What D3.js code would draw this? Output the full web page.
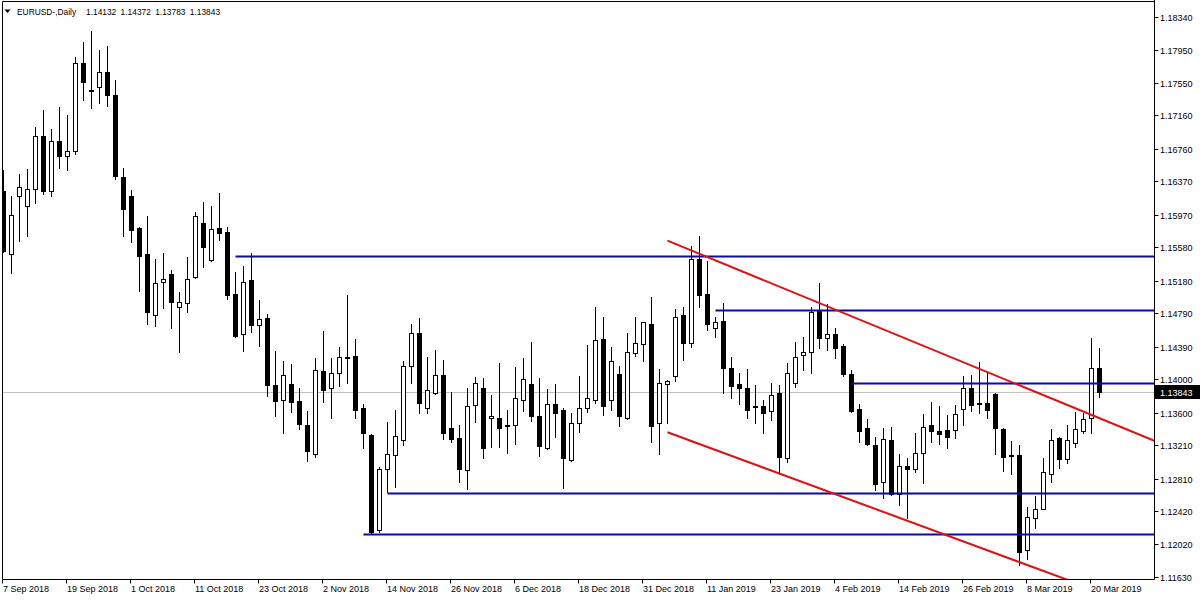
<!DOCTYPE html>
<html><head><meta charset="utf-8">
<script src="https://cdn.jsdelivr.net/npm/d3@7"></script>
<style>
body{margin:0;background:#fff;}
svg{display:block;font-family:"Liberation Sans",Arial,sans-serif;}
</style>
</head><body>
<svg id="chart" width="1200" height="600"></svg>
<script>
// ---- data ----
const symbolLabel = "EURUSD-,Daily";
const startDate = "2018-09-07";
const holidays = ["2018-12-25", "2019-01-01"];
const opens = [1.1625,1.1550,1.1619,1.1608,1.1628,1.1691,1.1626,1.1685,1.1667,1.1674,
1.1779,1.1747,1.1750,1.1768,1.1740,1.1642,1.1620,1.1581,1.1550,1.1477,
1.1517,1.1526,1.1486,1.1491,1.1522,1.1587,1.1543,1.1581,1.1576,1.1502,
1.1454,1.1519,1.1465,1.1473,1.1393,1.1375,1.1394,1.1374,1.1345,1.1310,
1.1410,1.1389,1.1408,1.1427,1.1428,1.1365,1.1333,1.1219,1.1292,1.1309,
1.1327,1.1416,1.1455,1.1366,1.1384,1.1405,1.1342,1.1329,1.1291,1.1369,
1.1389,1.1353,1.1354,1.1345,1.1345,1.1375,1.1394,1.1356,1.1318,1.1370,
1.1363,1.1303,1.1348,1.1366,1.1375,1.1448,1.1375,1.1406,1.1354,1.1431,
1.1442,1.1466,1.1347,1.1394,1.1404,1.1477,1.1443,1.1544,1.1502,1.1461,
1.1470,1.1413,1.1394,1.1389,1.1368,1.1368,1.1362,1.1383,1.1305,1.1395,
1.1429,1.1433,1.1483,1.1449,1.1454,1.1440,1.1406,1.1364,1.1341,1.1321,
1.1277,1.1327,1.1262,1.1296,1.1293,1.1311,1.1345,1.1338,1.1339,1.1339,
1.1364,1.1390,1.1371,1.1371,1.1382,1.1340,1.1309,1.1309,1.1195,1.1234,
1.1245,1.1287,1.1330,1.1304,1.1323,1.1338,1.1353,1.14132];
const highs = [1.1651,1.1619,1.1646,1.1652,1.1702,1.1723,1.1700,1.1726,1.1717,1.1786,
1.1804,1.1817,1.1795,1.1799,1.1758,1.1653,1.1627,1.1582,1.1596,1.1544,
1.1551,1.1531,1.1505,1.1546,1.1600,1.1612,1.1608,1.1623,1.1582,1.1528,
1.1536,1.1551,1.1495,1.1478,1.1434,1.1422,1.1418,1.1390,1.1362,1.1425,
1.1458,1.1425,1.1439,1.1501,1.1448,1.1370,1.1334,1.1295,1.1349,1.1363,
1.1422,1.1466,1.1473,1.1427,1.1435,1.1423,1.1385,1.1345,1.1389,1.1403,
1.1401,1.1381,1.1419,1.1363,1.1415,1.1425,1.1445,1.1401,1.1388,1.1394,
1.1366,1.1359,1.1404,1.1441,1.1487,1.1475,1.1439,1.1416,1.1455,1.1474,
1.1469,1.1498,1.1412,1.1399,1.1484,1.1486,1.1560,1.1572,1.1542,1.1475,
1.1491,1.1427,1.1407,1.1412,1.1393,1.1375,1.1395,1.1393,1.1419,1.1444,
1.1451,1.1486,1.1515,1.1490,1.1461,1.1442,1.1411,1.1370,1.1352,1.1331,
1.1342,1.1343,1.1310,1.1306,1.1336,1.1358,1.1373,1.1368,1.1357,1.1369,
1.1404,1.1405,1.1421,1.1407,1.1383,1.1341,1.1326,1.1321,1.1247,1.1260,
1.1306,1.1340,1.1331,1.1345,1.1361,1.1360,1.1449,1.14372];
const lows = [1.1552,1.1527,1.1566,1.1571,1.1611,1.1622,1.1619,1.1653,1.1651,1.1670,
1.1734,1.1725,1.1731,1.1727,1.1640,1.1571,1.1565,1.1506,1.1466,1.1464,
1.1485,1.1461,1.1433,1.1481,1.1521,1.1535,1.1542,1.1567,1.1496,1.1450,
1.1434,1.1457,1.1440,1.1380,1.1356,1.1336,1.1361,1.1340,1.1302,1.1307,
1.1373,1.1354,1.1392,1.1395,1.1353,1.1317,1.1216,1.1217,1.1265,1.1271,
1.1321,1.1395,1.1359,1.1360,1.1382,1.1328,1.1325,1.1277,1.1268,1.1349,
1.1306,1.1319,1.1319,1.1311,1.1322,1.1362,1.1350,1.1308,1.1316,1.1331,
1.1270,1.1302,1.1337,1.1361,1.1372,1.1357,1.1363,1.1344,1.1352,1.1428,
1.1422,1.1325,1.1310,1.1347,1.1398,1.1423,1.1438,1.1486,1.1459,1.1451,
1.1383,1.1378,1.1370,1.1354,1.1347,1.1336,1.1351,1.1289,1.1301,1.1391,
1.1411,1.1407,1.1437,1.1435,1.1425,1.1404,1.1361,1.1325,1.1321,1.1267,
1.1258,1.1261,1.1249,1.1234,1.1289,1.1276,1.1325,1.1322,1.1317,1.1330,
1.1345,1.1362,1.1360,1.1354,1.1310,1.1290,1.1287,1.1177,1.1185,1.1222,
1.1244,1.1277,1.1294,1.1300,1.1319,1.1335,1.1336,1.13783];
const closes = [1.1554,1.1597,1.1630,1.1628,1.1692,1.1625,1.1685,1.1668,1.1674,1.1779,
1.1756,1.1746,1.1768,1.1741,1.1643,1.1604,1.1579,1.1548,1.1480,1.1515,
1.1520,1.1492,1.1493,1.1520,1.1596,1.1559,1.1580,1.1575,1.1501,1.1452,
1.1516,1.1465,1.1472,1.1393,1.1374,1.1405,1.1373,1.1346,1.1314,1.1411,
1.1387,1.1408,1.1427,1.1426,1.1363,1.1335,1.1217,1.1292,1.1310,1.1332,
1.1416,1.1455,1.1372,1.1387,1.1405,1.1336,1.1328,1.1292,1.1368,1.1395,
1.1318,1.1356,1.1342,1.1344,1.1378,1.1400,1.1356,1.1320,1.1370,1.1359,
1.1306,1.1348,1.1365,1.1377,1.1447,1.1368,1.1422,1.1356,1.1432,1.1443,
1.1468,1.1344,1.1395,1.1398,1.1475,1.1443,1.1544,1.1501,1.1466,1.1469,
1.1413,1.1392,1.1389,1.1363,1.1367,1.1360,1.1381,1.1307,1.1407,1.1427,
1.1433,1.1480,1.1449,1.1454,1.1437,1.1406,1.1362,1.1338,1.1322,1.1275,
1.1328,1.1262,1.1296,1.1292,1.1311,1.1343,1.1338,1.1334,1.1331,1.1358,
1.1390,1.1369,1.1370,1.1363,1.1341,1.1307,1.1308,1.1193,1.1235,1.1245,
1.1289,1.1327,1.1304,1.1327,1.1340,1.1352,1.1414,1.13843];
const xTickLabels = ["7 Sep 2018","19 Sep 2018","1 Oct 2018","11 Oct 2018","23 Oct 2018",
"2 Nov 2018","14 Nov 2018","26 Nov 2018","6 Dec 2018","18 Dec 2018","31 Dec 2018",
"11 Jan 2019","23 Jan 2019","4 Feb 2019","14 Feb 2019","26 Feb 2019","8 Mar 2019","20 Mar 2019"];
const priceTicks = [1.18340,1.17950,1.17550,1.17160,1.16760,1.16370,1.15970,1.15580,1.15180,
1.14790,1.14390,1.14000,1.13600,1.13210,1.12810,1.12420,1.12020,1.11630];
const hLinePrices = [1.15476, 1.14833, 1.13958, 1.12637, 1.12149];
const hLineStartBars = [29, 89, 106, 48, 45];
const trendStartBars = [83, 83];
const trendEndBars = [133, 133];
const trendStartPrices = [1.15660, 1.13364];
const trendEndPrices = [1.13690, 1.11596];

// ---- layout ----
const W = 1200, H = 600;
const plotL = 2.5, plotT = 1.5, plotR = 1154.5, plotB = 579.5;
const n = opens.length;
const svg = d3.select("#chart");
svg.append("rect").attr("width", W).attr("height", H).attr("fill", "#fff");

const fmtKey = d3.timeFormat("%Y-%m-%d");
const fmtLbl = d3.timeFormat("%-d %b %Y");
const dates = [];
{
  const d = d3.timeParse("%Y-%m-%d")(startDate);
  while (dates.length < n) {
    const wd = d.getDay();
    if (wd !== 0 && wd !== 6 && !holidays.includes(fmtKey(d))) dates.push(new Date(d));
    d.setDate(d.getDate() + 1);
  }
}
const keys = dates.map(fmtKey);
const x = d3.scalePoint().domain(keys).range([3.5, 3.5 + 8 * (n - 1)]);
const y = d3.scaleLinear().domain([1.18340, 1.11630]).range([17, 577]);
const xi = i => x(keys[i]);
const xEdge = x.range()[0] + (plotR - x.range()[0]);

svg.append("clipPath").attr("id", "clip").append("rect")
  .attr("x", plotL + 0.5).attr("y", plotT + 0.5).attr("width", plotR - plotL - 1).attr("height", plotB - plotT - 1);
const plot = svg.append("g").attr("clip-path", "url(#clip)");

// current price line
const lastPrice = closes[n - 1];
const yLast = Math.round(y(lastPrice)) + 0.5;
plot.append("line").attr("x1", plotL).attr("x2", plotR).attr("y1", yLast).attr("y2", yLast)
  .attr("stroke", "#c0c0c0").attr("stroke-width", 1);

// candles
const cg = plot.append("g");
for (let i = 0; i < n; i++) {
  const cx = xi(i);
  const o = opens[i], c = closes[i];
  cg.append("line").attr("x1", cx).attr("x2", cx)
    .attr("y1", Math.round(y(highs[i]))).attr("y2", Math.round(y(lows[i])) + 1)
    .attr("stroke", "#000").attr("stroke-width", 1);
  const top = Math.round(y(Math.max(o, c)));
  const bot = Math.round(y(Math.min(o, c)));
  const bull = c > o;
  cg.append("rect").attr("x", cx - 2).attr("y", top + 0.5)
    .attr("width", 4).attr("height", Math.max(bot - top, 1))
    .attr("fill", bull ? "#fff" : "#000").attr("stroke", "#000").attr("stroke-width", 1);
}

// horizontal levels
hLinePrices.forEach((p, k) => {
  const yy = Math.round(y(p)) + 0.5;
  plot.append("line").attr("x1", xi(hLineStartBars[k])).attr("x2", plotR)
    .attr("y1", yy).attr("y2", yy).attr("stroke", "#0a0aa5").attr("stroke-width", 2);
});

// trend rays
trendStartBars.forEach((b, k) => {
  const x1 = xi(b), y1 = y(trendStartPrices[k]);
  const x2 = xi(trendEndBars[k]), y2 = y(trendEndPrices[k]);
  const slope = (y2 - y1) / (x2 - x1);
  const xe = plotR + 10;
  plot.append("line").attr("x1", x1).attr("y1", y1).attr("x2", xe).attr("y2", y1 + slope * (xe - x1))
    .attr("stroke", "#e01010").attr("stroke-width", 2);
});

// frame
const frame = svg.append("g").attr("stroke", "#000").attr("stroke-width", 1);
frame.append("line").attr("x1", plotL).attr("x2", plotL).attr("y1", plotT).attr("y2", plotB);
frame.append("line").attr("x1", plotL).attr("x2", plotR).attr("y1", plotT).attr("y2", plotT);
frame.append("line").attr("x1", plotR).attr("x2", plotR).attr("y1", 0).attr("y2", plotB);
frame.append("line").attr("x1", plotL).attr("x2", plotR).attr("y1", plotB).attr("y2", plotB);

// price axis
priceTicks.forEach(p => {
  const yy = Math.round(y(p)) + 0.5;
  svg.append("line").attr("x1", plotR).attr("x2", plotR + 4).attr("y1", yy).attr("y2", yy)
    .attr("stroke", "#000");
  svg.append("text").attr("x", 1160).attr("y", yy + 3.5).attr("font-size", 9).attr("fill", "#000")
    .text(p.toFixed(5));
});
// last price tag
svg.append("rect").attr("x", plotR + 0.5).attr("y", yLast - 7.5).attr("width", W - plotR).attr("height", 14).attr("fill", "#000");
svg.append("text").attr("x", 1160).attr("y", yLast + 3.5).attr("font-size", 9).attr("fill", "#fff")
  .text(lastPrice.toFixed(5));

// time axis
xTickLabels.forEach(lbl => {
  const idx = dates.findIndex(d => fmtLbl(d) === lbl);
  if (idx < 0) return;
  const tx = Math.floor(xi(idx)) - 0.5;
  svg.append("line").attr("x1", tx).attr("x2", tx).attr("y1", plotB).attr("y2", plotB + 4).attr("stroke", "#000");
  svg.append("text").attr("x", tx + 0.5).attr("y", 592).attr("font-size", 9).attr("fill", "#000").text(lbl);
});

// header
svg.append("path").attr("d", "M4.5,9.5 L10.5,9.5 L7.5,13 Z").attr("fill", "#000");
svg.append("text").attr("x", 17).attr("y", 15).attr("font-size", 8.4).text(symbolLabel);
const ohlcLast = [opens[n - 1], highs[n - 1], lows[n - 1], closes[n - 1]];
ohlcLast.forEach((v, k) => {
  svg.append("text").attr("x", 86 + k * 34.6).attr("y", 15).attr("font-size", 8.4).text(v.toFixed(5));
});
</script>
</body></html>
